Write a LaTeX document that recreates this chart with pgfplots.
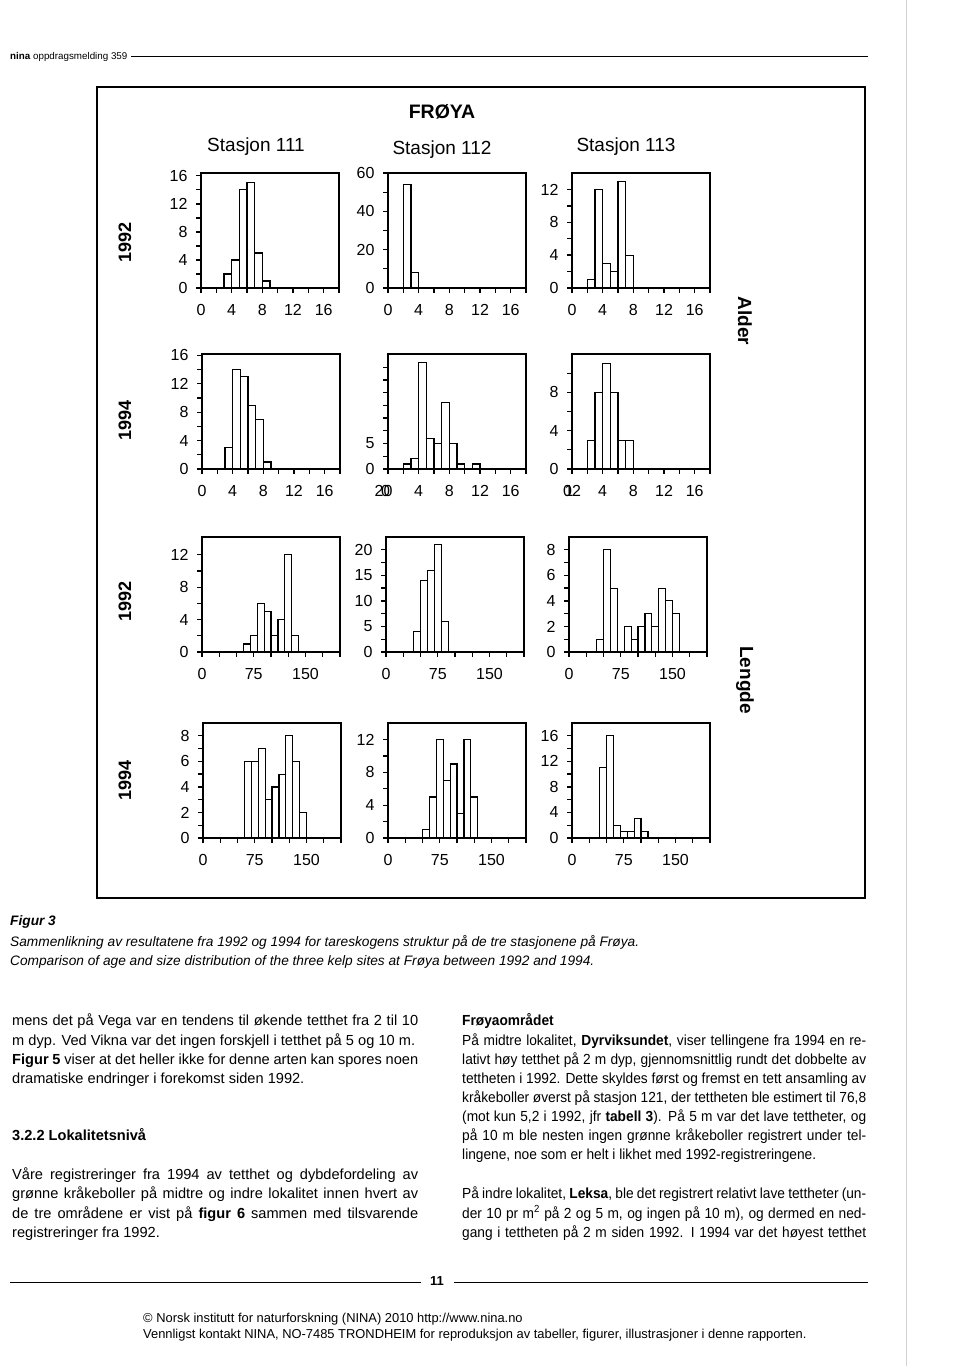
\documentclass[border=0pt]{standalone}
\usepackage{fontspec}
\setmainfont{Liberation Sans}
\newfontfamily\rightcol[FakeStretch=0.94]{Liberation Sans}
\usepackage{pgfplots}
\pgfplotsset{compat=1.18}

\pgfplotsset{
  panel/.style={
    scale only axis, width=138pt, height=115pt,
    axis line style={line width=1.6pt},
    tick align=outside, tick pos=left,
    major tick length=5pt,
    every tick/.style={black, line width=1.3pt},
    ticklabel style={font=\fontsize{16}{16}\selectfont},
    xticklabel shift=8pt, yticklabel shift=5pt,
    /pgf/number format/assume math mode=true,
    ymin=0, xmin=0, clip=false, anchor=north west,
  },
  age/.style={panel, xmax=18, xtick={0,2,...,18}, xticklabels={0,,4,,8,,12,,16,}},
  len/.style={panel, xmax=200, xtick={0,25,...,200}, xticklabels={0,,,75,,,150,,}},
  hist/.style={ybar interval, draw=black, fill=white, line width=1.2pt},
}
\newcommand{\tl}[3]{\node[anchor=base west, inner sep=0pt] at (#1pt,-#2pt) {#3};}
\newcommand{\jl}[4]{\node[anchor=base west, inner sep=0pt] at (#1pt,-#2pt) {\makebox[#3pt][s]{#4}};}

\begin{document}
\begin{tikzpicture}
\fill[white] (0pt,0pt) rectangle (960pt,-1366pt);
\useasboundingbox (0pt,0pt) rectangle (960pt,-1366pt);
\draw[gray!35, line width=1pt] (906pt,0pt) -- (906pt,-1366pt);

% header
\node[anchor=base west, inner sep=0pt, font=\fontsize{9.8}{10}\selectfont] at (10pt,-59pt) {\textbf{nina} oppdragsmelding 359};
\draw[line width=0.8pt] (131pt,-56pt) -- (868pt,-56pt);

% figure frame and titles
\draw[line width=1.2pt] (97pt,-87pt) rectangle (865pt,-898pt);
\node[font=\bfseries\fontsize{19.5}{20}\selectfont] at (442pt,-112pt) {FRØYA};
\node[font=\fontsize{19}{20}\selectfont] at (256pt,-147pt) {Stasjon 111};
\node[font=\fontsize{19}{20}\selectfont] at (442pt,-150pt) {Stasjon 112};
\node[font=\fontsize{19}{20}\selectfont] at (626pt,-147pt) {Stasjon 113};
\node[rotate=90, font=\bfseries\fontsize{18}{18}\selectfont] at (125pt,-242pt) {1992};
\node[rotate=90, font=\bfseries\fontsize{18}{18}\selectfont] at (125pt,-420pt) {1994};
\node[rotate=90, font=\bfseries\fontsize{18}{18}\selectfont] at (125pt,-601pt) {1992};
\node[rotate=90, font=\bfseries\fontsize{18}{18}\selectfont] at (125pt,-780pt) {1994};
\node[rotate=-90, font=\bfseries\fontsize{19}{19}\selectfont] at (745pt,-321pt) {Alder};
\node[rotate=-90, font=\bfseries\fontsize{19}{19}\selectfont] at (745pt,-680pt) {Lengde};

% row 1: 1992, age
\begin{axis}[age, at={(201pt,-173pt)}, ymax=16.4, ytick={0,2,...,16}, yticklabels={0,,4,,8,,12,,16}]
\addplot[hist] coordinates {(3,2)(4,4)(5,14)(6,15)(7,5)(8,1)(9,0)};
\end{axis}
\begin{axis}[age, at={(388pt,-173pt)}, ymax=60, ytick={0,10,...,60}, yticklabels={0,,20,,40,,60}]
\addplot[hist] coordinates {(2,54)(3,8)(4,0)};
\end{axis}
\begin{axis}[age, at={(572pt,-173pt)}, ymax=14, ytick={0,2,...,12}, yticklabels={0,,4,,8,,12}]
\addplot[hist] coordinates {(2,1)(3,12)(4,3)(5,2)(6,13)(7,4)(8,0)};
\end{axis}

% row 2: 1994, age
\begin{axis}[age, at={(202pt,-354pt)}, ymax=16.2, ytick={0,2,...,16}, yticklabels={0,,4,,8,,12,,16}]
\addplot[hist] coordinates {(3,3)(4,14)(5,13)(6,9)(7,7)(8,1)(9,0)};
\end{axis}
\begin{axis}[age, at={(388pt,-354pt)}, ymax=22.6, ytick={0,2.5,...,20}, yticklabels={0,{},5,{},{},{},{},{},{}},
  xticklabels={\llap{2\rlap{\kern-2.5pt 0}}0,,4,,8,,12,,16,}]
\addplot[hist] coordinates {(2,1)(3,2)(4,21)(5,6)(6,5)(7,13)(8,5)(9,1)(10,0)(11,1)(12,0)};
\end{axis}
\begin{axis}[age, at={(572pt,-354pt)}, ymax=12, ytick={0,2,...,10}, yticklabels={0,,4,,8,},
  xticklabels={\rlap{\kern1.5pt 1}02,,4,,8,,12,,16,}]
\addplot[hist] coordinates {(2,3)(3,8)(4,11)(5,8)(6,3)(7,3)(8,0)};
\end{axis}

% row 3: 1992, length
\begin{axis}[len, at={(202pt,-537pt)}, ymax=14.2, ytick={0,2,...,12}, yticklabels={0,,4,,8,,12}]
\addplot[hist] coordinates {(60,1)(70,2)(80,6)(90,5)(100,2)(110,4)(120,12)(130,2)(140,0)};
\end{axis}
\begin{axis}[len, at={(386pt,-537pt)}, ymax=22.5, ytick={0,2.5,...,20}, yticklabels={0,,5,,10,,15,,20}]
\addplot[hist] coordinates {(40,4)(50,14)(60,16)(70,21)(80,6)(90,0)};
\end{axis}
\begin{axis}[len, at={(569pt,-537pt)}, ymax=9, ytick={0,1,...,8}, yticklabels={0,,2,,4,,6,,8}]
\addplot[hist] coordinates {(40,1)(50,8)(60,5)(70,0)(80,2)(90,1)(100,2)(110,3)(120,2)(130,5)(140,4)(150,3)(160,0)};
\end{axis}

% row 4: 1994, length
\begin{axis}[len, at={(203pt,-723pt)}, ymax=9, ytick={0,1,...,8}, yticklabels={0,,2,,4,,6,,8}]
\addplot[hist] coordinates {(60,6)(70,6)(80,7)(90,3)(100,4)(110,5)(120,8)(130,6)(140,2)(150,0)};
\end{axis}
\begin{axis}[len, at={(388pt,-723pt)}, ymax=14, ytick={0,2,...,12}, yticklabels={0,,4,,8,,12}]
\addplot[hist] coordinates {(50,1)(60,5)(70,12)(80,7)(90,9)(100,3)(110,12)(120,5)(130,0)};
\end{axis}
\begin{axis}[len, at={(572pt,-723pt)}, ymax=18, ytick={0,2,...,16}, yticklabels={0,,4,,8,,12,,16}]
\addplot[hist] coordinates {(40,11)(50,16)(60,2)(70,1)(80,1)(90,3)(100,1)(110,0)};
\end{axis}

% caption
\begin{scope}[font=\itshape\fontsize{13.7}{15}\selectfont]
\tl{10}{925}{\textbf{Figur 3}}
\tl{10}{946}{Sammenlikning av resultatene fra 1992 og 1994 for tareskogens struktur på de tre stasjonene på Frøya.}
\tl{10}{965}{Comparison of age and size distribution of the three kelp sites at Frøya between 1992 and 1994.}
\end{scope}

% body text, left column
\begin{scope}[font=\fontsize{14.6}{18}\selectfont]
\jl{12}{1025}{406}{mens det på Vega var en tendens til økende tetthet fra 2 til 10}
\jl{12}{1045}{403}{m dyp. Ved Vikna var det ingen forskjell i tetthet på 5 og 10 m.}
\jl{12}{1064}{406}{\textbf{Figur 5} viser at det heller ikke for denne arten kan spores noen}
\tl{12}{1083}{dramatiske endringer i forekomst siden 1992.}
\tl{12}{1140}{\textbf{3.2.2 Lokalitetsnivå}}
\jl{12}{1179}{406}{Våre registreringer fra 1994 av tetthet og dybdefordeling av}
\jl{12}{1198}{406}{grønne kråkeboller på midtre og indre lokalitet innen hvert av}
\jl{12}{1218}{406}{de tre områdene er vist på \textbf{figur 6} sammen med tilsvarende}
\tl{12}{1237}{registreringer fra 1992.}
\end{scope}

% body text, right column
\begin{scope}[font=\rightcol\fontsize{14.6}{18}\selectfont]
\tl{462}{1025}{\textbf{Frøyaområdet}}
\jl{462}{1045}{404}{På midtre lokalitet, \textbf{Dyrviksundet}, viser tellingene fra 1994 en re-}
\jl{462}{1064}{404}{lativt høy tetthet på 2 m dyp, gjennomsnittlig rundt det dobbelte av}
\jl{462}{1083}{404}{tettheten i 1992. Dette skyldes først og fremst en tett ansamling av}
\jl{462}{1102}{404}{kråkeboller øverst på stasjon 121, der tettheten ble estimert til 76,8}
\jl{462}{1121}{404}{(mot kun 5,2 i 1992, jfr \textbf{tabell 3}). På 5 m var det lave tettheter, og}
\jl{462}{1140}{404}{på 10 m ble nesten ingen grønne kråkeboller registrert under tel-}
\tl{462}{1159}{lingene, noe som er helt i likhet med 1992-registreringene.}
\jl{462}{1198}{404}{På indre lokalitet, \textbf{Leksa}, ble det registrert relativt lave tettheter (un-}
\jl{462}{1218}{404}{der 10 pr m\textsuperscript{2} på 2 og 5 m, og ingen på 10 m), og dermed en ned-}
\jl{462}{1237}{404}{gang i tettheten på 2 m siden 1992. I 1994 var det høyest tetthet}
\end{scope}

% footer
\draw[line width=0.8pt] (10pt,-1282pt) -- (421pt,-1282pt);
\draw[line width=0.8pt] (454pt,-1282pt) -- (868pt,-1282pt);
\node[font=\bfseries\fontsize{13}{14}\selectfont] at (437pt,-1281pt) {11};
\begin{scope}[font=\fontsize{12.9}{14}\selectfont]
\tl{143}{1322}{© Norsk institutt for naturforskning (NINA) 2010 http://www.nina.no}
\tl{143}{1338}{Vennligst kontakt NINA, NO-7485 TRONDHEIM for reproduksjon av tabeller, figurer, illustrasjoner i denne rapporten.}
\end{scope}
\end{tikzpicture}
\end{document}
